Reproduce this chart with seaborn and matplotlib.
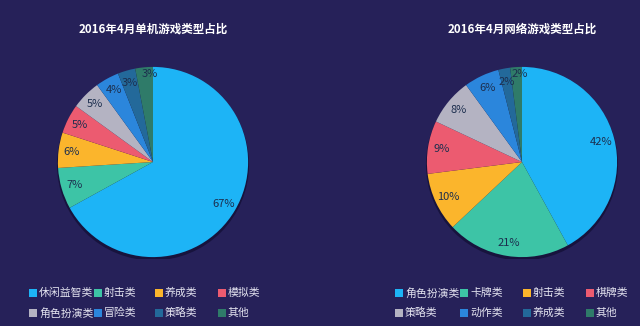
import numpy as np
import matplotlib
matplotlib.use("Agg")
import matplotlib.pyplot as plt
from matplotlib.patches import Rectangle, Circle
import seaborn as sns

# Single-player game genres, April 2016
single_labels = ["休闲益智类", "射击类", "养成类", "模拟类", "角色扮演类", "冒险类", "策略类", "其他"]
single_values = [67, 7, 6, 5, 5, 4, 3, 3]

# Online game genres, April 2016
online_labels = ["角色扮演类", "卡牌类", "射击类", "棋牌类", "策略类", "动作类", "养成类", "其他"]
online_values = [42, 21, 10, 9, 8, 6, 2, 2]

titles = ["2016年4月单机游戏类型占比", "2016年4月网络游戏类型占比"]

slice_colors = ["#1db4f6", "#3dc4a6", "#fbb52c", "#ec5b70", "#b4b3c2", "#2b86dc", "#23699a", "#2f7b69"]
bg = "#262159"

sns.set_theme(style="white", rc={"figure.facecolor": bg, "axes.facecolor": bg,
                                  "savefig.facecolor": bg})
plt.rcParams["font.family"] = ["Noto Sans CJK SC", "DejaVu Sans"]

palette = sns.color_palette(slice_colors)

W, H = 640, 326
fig = plt.figure(figsize=(W / 100, H / 100), dpi=100)

centers = [(153, 162), (522, 162)]
radius = 97
datasets = [(single_labels, single_values), (online_labels, online_values)]
legend_x = [[33, 98, 159, 222], [399, 464, 527, 590]]
legend_rows = [293, 313]
sq = 8

for (cx, cy), (labels, values), title, lx in zip(centers, datasets, titles, legend_x):
    ax = fig.add_axes([(cx - radius) / W, (H - cy - radius) / H,
                       2 * radius / W, 2 * radius / H])
    ax.set_facecolor(bg)
    # soft drop shadow under the pie
    ax.add_patch(Circle((0.0, -0.025), 1.01, facecolor="#17133d", edgecolor="none",
                        zorder=0))
    wedges, texts, autotexts = ax.pie(
        values, colors=palette, startangle=90, counterclock=False,
        autopct=lambda p: f"{p:.0f}%", pctdistance=0.86,
        wedgeprops=dict(linewidth=0), radius=1.0,
        textprops=dict(color="#1c2e4e", fontsize=8),
    )
    # the thin last wedge gets its label nudged outward toward 12 o'clock
    w = wedges[-1]
    span = w.theta2 - w.theta1
    ang = np.deg2rad((w.theta1 + w.theta2) / 2 - 0.3 * span)
    autotexts[-1].set_position((0.93 * np.cos(ang), 0.93 * np.sin(ang)))

    ax.set_xlim(-1.02, 1.02)
    ax.set_ylim(-1.02, 1.02)
    ax.axis("off")

    fig.text(cx / W, 1 - 29 / H, title, ha="center", va="center",
             color="white", fontsize=8.3, fontweight="bold")

    # Legend as a 4-column by 2-row grid of swatches and names
    for i, name in enumerate(labels):
        row, col = divmod(i, 4)
        x0 = lx[col] - sq / 2
        y0 = legend_rows[row]
        fig.add_artist(Rectangle((x0 / W, 1 - (y0 + sq / 2) / H), sq / W, sq / H,
                                 transform=fig.transFigure,
                                 facecolor=slice_colors[i], edgecolor="none"))
        fig.text((x0 + sq + 2) / W, 1 - y0 / H, name, ha="left", va="center",
                 color="#e4e4f0", fontsize=7.8)

fig.savefig("out.png", dpi=100, facecolor=bg)
